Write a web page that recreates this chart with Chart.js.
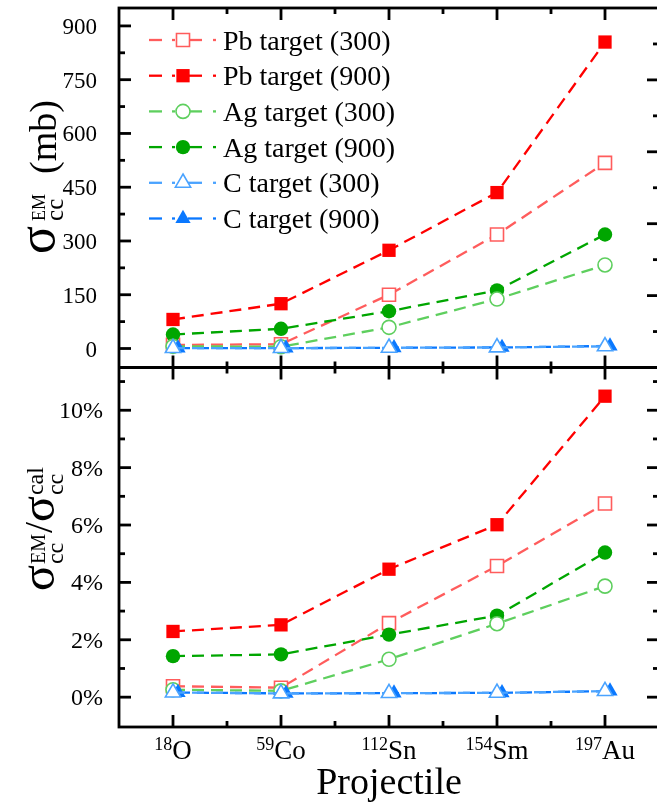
<!DOCTYPE html>
<html><head><meta charset="utf-8">
<script src="https://cdn.jsdelivr.net/npm/chart.js@4.4.0/dist/chart.umd.min.js"></script>
<style>
html,body{margin:0;padding:0;background:#fff;overflow:hidden;width:657px;height:804px}
#wrap{position:relative;width:657px;height:804px;overflow:hidden}
#c{display:block;position:absolute;left:0;top:0;width:664px;height:804px}
</style></head>
<body><div id="wrap"><canvas id="c" width="664" height="804" style="width:664px;height:804px"></canvas></div>
<script>
// ---------- data ----------
const massNumbers = ['18', '59', '112', '154', '197'];
const elements = ['O', 'Co', 'Sn', 'Sm', 'Au'];
const categories = massNumbers.map((m, i) => m + elements[i]);

const seriesNames = ['Pb target (300)', 'Pb target (900)', 'Ag target (300)', 'Ag target (900)', 'C target (300)', 'C target (900)'];

// top panel: sigma_cc^EM (mb)
const pb300Em = [10, 12, 150, 318, 518];
const pb900Em = [81, 125, 274, 435, 855];
const ag300Em = [6, 5, 59, 138, 233];
const ag900Em = [39, 55, 104, 162, 318];
const c300Em  = [1, 1, 2, 3, 6];
const c900Em  = [1, 1, 2, 3, 7];

// bottom panel: sigma_cc^EM / sigma_cc^cal (%)
const pb300Ratio = [0.38, 0.33, 2.58, 4.57, 6.75];
const pb900Ratio = [2.29, 2.52, 4.46, 6.01, 10.49];
const ag300Ratio = [0.26, 0.22, 1.32, 2.56, 3.87];
const ag900Ratio = [1.43, 1.49, 2.18, 2.84, 5.04];
const c300Ratio  = [0.16, 0.13, 0.14, 0.15, 0.21];
const c900Ratio  = [0.16, 0.13, 0.14, 0.15, 0.21];

const topTicks = [0, 150, 300, 450, 600, 750, 900];
const topMinorTicks = [75, 225, 375, 525, 675, 825];
const bottomTicks = [0, 2, 4, 6, 8, 10];
const bottomMinorTicks = [1, 3, 5, 7, 9, 11];
const rightTopTicks = [2, 4, 6, 8];
const rightTopMinorTicks = [1, 3, 5, 7, 9];

// ---------- styles ----------
const FONT = '"Liberation Serif", "Times New Roman", serif';
const styles = [
  {color: '#ff5c5c', shape: 'rect', filled: false, r: 9.2, order: 5},
  {color: '#ff0000', shape: 'rect', filled: true,  r: 9.4, order: 6},
  {color: '#5ecf5e', shape: 'circle', filled: false, r: 7, order: 3},
  {color: '#00a600', shape: 'circle', filled: true,  r: 7.2, order: 4},
  {color: '#4aa3ff', shape: 'triangle', filled: false, r: 8.8, order: 1},
  {color: '#0a78ff', shape: 'triangle', filled: true,  r: 8.8, order: 2, shift: 5},
];
const emSeries = [pb300Em, pb900Em, ag300Em, ag900Em, c300Em, c900Em];
const ratioSeries = [pb300Ratio, pb900Ratio, ag300Ratio, ag900Ratio, c300Ratio, c900Ratio];

function makeDs(i, data, axis) {
  const s = styles[i];
  return {
    label: seriesNames[i], data: data, yAxisID: axis,
    borderColor: s.color, borderWidth: 2.3, borderDash: [12, 7],
    pointStyle: s.shape, pointRadius: s.r, pointHoverRadius: s.r,
    pointBackgroundColor: s.filled ? s.color : '#ffffff',
    pointBorderColor: s.color, pointBorderWidth: s.filled ? 0 : 1.6,
    tension: 0, fill: false, order: s.order, xShift: s.shift || 0, clip: false,
  };
}
const datasets = [];
for (let i = 0; i < 6; i++) datasets.push(makeDs(i, emSeries[i], 'yTop'));
for (let i = 0; i < 6; i++) datasets.push(makeDs(i, ratioSeries[i], 'yBottom'));

// ---------- helpers ----------
function drawMarker(ctx, s, x, y) {
  ctx.save();
  ctx.fillStyle = s.filled ? s.color : '#fff';
  ctx.strokeStyle = s.color;
  ctx.lineWidth = 1.6;
  ctx.setLineDash([]);
  ctx.beginPath();
  if (s.shape === 'rect') {
    const h = s.r * Math.SQRT1_2;
    ctx.rect(x - h, y - h, 2 * h, 2 * h);
  } else if (s.shape === 'circle') {
    ctx.arc(x, y, s.r, 0, Math.PI * 2);
  } else {
    const r = s.r;
    ctx.moveTo(x, y - r);
    ctx.lineTo(x + r * Math.sin(2 * Math.PI / 3), y - r * Math.cos(2 * Math.PI / 3));
    ctx.lineTo(x + r * Math.sin(4 * Math.PI / 3), y - r * Math.cos(4 * Math.PI / 3));
    ctx.closePath();
  }
  ctx.fill();
  if (!s.filled) ctx.stroke();
  ctx.restore();
}

function richWidth(ctx, parts) {
  let w = 0;
  for (const p of parts) {
    if (p.t !== undefined) { ctx.font = p.size + 'px ' + FONT; p.w = ctx.measureText(p.t).width + (p.gap || 0); }
    else {
      ctx.font = p.subSize + 'px ' + FONT; const a = ctx.measureText(p.sub).width;
      ctx.font = p.supSize + 'px ' + FONT; const b = ctx.measureText(p.sup).width;
      p.w = Math.max(a, b) + (p.gap || 0);
    }
    w += p.w;
  }
  return w;
}
function drawRich(ctx, parts, x, y) {
  let cx = x;
  for (const p of parts) {
    if (p.t !== undefined) { ctx.font = p.size + 'px ' + FONT; ctx.fillText(p.t, cx, y + (p.dy || 0)); }
    else {
      ctx.font = p.subSize + 'px ' + FONT; ctx.fillText(p.sub, cx, y + p.subDy);
      ctx.font = p.supSize + 'px ' + FONT; ctx.fillText(p.sup, cx, y + p.supDy);
    }
    cx += p.w;
  }
}

const shiftPlugin = {
  id: 'shift',
  beforeDatasetDraw(chart, args) {
    const ds = chart.data.datasets[args.index];
    chart.ctx.save();
    if (ds.xShift) chart.ctx.translate(ds.xShift, 0);
  },
  afterDatasetDraw(chart) { chart.ctx.restore(); }
};

const framePlugin = {
  id: 'frame',
  afterDraw(chart) {
    const ctx = chart.ctx;
    const xs = chart.scales.x, yt = chart.scales.yTop, yb = chart.scales.yBottom, ytr = chart.scales.yTopR;
    const L = chart.chartArea.left, R = chart.chartArea.right;
    const T = yt.top, M = yt.bottom, B = yb.bottom;
    ctx.save();
    ctx.strokeStyle = '#000'; ctx.lineWidth = 2.8; ctx.setLineDash([]); ctx.lineCap = 'butt';
    const line = (x1, y1, x2, y2) => { ctx.beginPath(); ctx.moveTo(x1, y1); ctx.lineTo(x2, y2); ctx.stroke(); };
    ctx.strokeRect(L, T, R - L, B - T);
    line(L, M, R, M);
    const MAJ = 12, MIN = 6;
    topTicks.forEach(v => { const y = yt.getPixelForValue(v); line(L, y, L + MAJ, y); });
    topMinorTicks.forEach(v => { const y = yt.getPixelForValue(v); line(L, y, L + MIN, y); });
    rightTopTicks.forEach(v => { const y = ytr.getPixelForValue(v); line(R, y, R - MAJ, y); });
    rightTopMinorTicks.forEach(v => { const y = ytr.getPixelForValue(v); line(R, y, R - MIN, y); });
    bottomTicks.forEach(v => { const y = yb.getPixelForValue(v); line(L, y, L + MAJ, y); line(R, y, R - MAJ, y); });
    bottomMinorTicks.forEach(v => { const y = yb.getPixelForValue(v); if (y > M + 2) { line(L, y, L + MIN, y); line(R, y, R - MIN, y); } });
    categories.forEach((c, i) => {
      const x = xs.getPixelForValue(i);
      line(x, T, x, T + MAJ); line(x, M - MAJ, x, M + MAJ); line(x, B, x, B - MAJ);
      if (i < categories.length - 1) {
        const xm = xs.getPixelForValue(i + 0.5);
        line(xm, T, xm, T + MIN); line(xm, M - MIN, xm, M + MIN); line(xm, B, xm, B - MIN);
      }
    });
    // y tick labels
    ctx.fillStyle = '#000'; ctx.textAlign = 'right'; ctx.textBaseline = 'alphabetic';
    ctx.font = '23px ' + FONT;
    topTicks.forEach(v => { const y = yt.getPixelForValue(v); ctx.fillText(String(v), L - 22, y + 8); });
    ctx.font = '24px ' + FONT;
    bottomTicks.forEach(v => { const y = yb.getPixelForValue(v); ctx.fillText(v + '%', L - 16, y + 8); });
    // x tick labels
    ctx.textAlign = 'left';
    categories.forEach((c, i) => {
      const x = xs.getPixelForValue(i);
      const parts = [{t: massNumbers[i], size: 18, dy: -9}, {t: elements[i], size: 27, dy: 0}];
      const w = richWidth(ctx, parts);
      drawRich(ctx, parts, x - w / 2, 759);
    });
    // x title
    ctx.textAlign = 'center';
    ctx.font = '38px ' + FONT;
    ctx.fillText('Projectile', (L + R) / 2, 794);
    // y titles (rotated)
    ctx.textAlign = 'left';
    const topTitle = [
      {t: 'σ', size: 52, dy: 0, gap: 5},
      {sub: 'cc', sup: 'EM', subSize: 25, supSize: 18, subDy: 9, supDy: -9, gap: 20},
      {t: '(mb)', size: 38, dy: 2},
    ];
    const botTitle = [
      {t: 'σ', size: 48, dy: 0, gap: 1},
      {sub: 'cc', sup: 'EM', subSize: 24, supSize: 20, subDy: 9, supDy: -9, gap: 1},
      {t: '/', size: 40, dy: -2},
      {t: 'σ', size: 48, dy: 0, gap: 1},
      {sub: 'cc', sup: 'cal', subSize: 24, supSize: 24, subDy: 9, supDy: -11},
    ];
    ctx.save();
    ctx.translate(54, 177); ctx.rotate(-Math.PI / 2);
    let w = richWidth(ctx, topTitle);
    drawRich(ctx, topTitle, -w / 2, 0);
    ctx.restore();
    ctx.save();
    ctx.translate(54, 529); ctx.rotate(-Math.PI / 2);
    w = richWidth(ctx, botTitle);
    drawRich(ctx, botTitle, -w / 2, 0);
    ctx.restore();
    // legend
    ctx.textAlign = 'left';
    ctx.font = '28px ' + FONT;
    seriesNames.forEach((name, i) => {
      const s = styles[i];
      const y = 40 + i * 35.7;
      ctx.strokeStyle = s.color; ctx.lineWidth = 2.3; ctx.setLineDash([]);
      line(149, y, 162, y); line(172, y, 175, y); line(188, y, 202, y); line(213, y, 216, y);
      drawMarker(ctx, s, 183, y);
      ctx.fillStyle = '#000';
      ctx.fillText(name, 223, y + 9.5);
    });
    ctx.restore();
  }
};

const hidden = {display: false, grid: {display: false, drawTicks: false}, border: {display: false}, ticks: {display: false}, title: {display: false}};

new Chart(document.getElementById('c'), {
  type: 'line',
  data: {labels: categories, datasets: datasets},
  options: {
    responsive: false, animation: false, devicePixelRatio: 1,
    layout: {autoPadding: false, padding: {left: 119, right: 5, top: 8, bottom: 77}},
    plugins: {legend: {display: false}, title: {display: false}, tooltip: {enabled: false}},
    scales: {
      x: Object.assign({type: 'category', offset: true}, hidden),
      yBottom: Object.assign({type: 'linear', position: 'left', stack: 'L', stackWeight: 1, min: -1.04, max: 11.49}, hidden),
      yTop: Object.assign({type: 'linear', position: 'left', stack: 'L', stackWeight: 1, min: -53, max: 950}, hidden),
      yTopR: Object.assign({type: 'linear', position: 'right', stack: 'R', stackWeight: 1, min: 0, max: 10}, hidden),
      yBottomR: Object.assign({type: 'linear', position: 'right', stack: 'R', stackWeight: 1, min: -1.04, max: 11.49}, hidden),
    }
  },
  plugins: [shiftPlugin, framePlugin]
});
</script>
</body></html>
